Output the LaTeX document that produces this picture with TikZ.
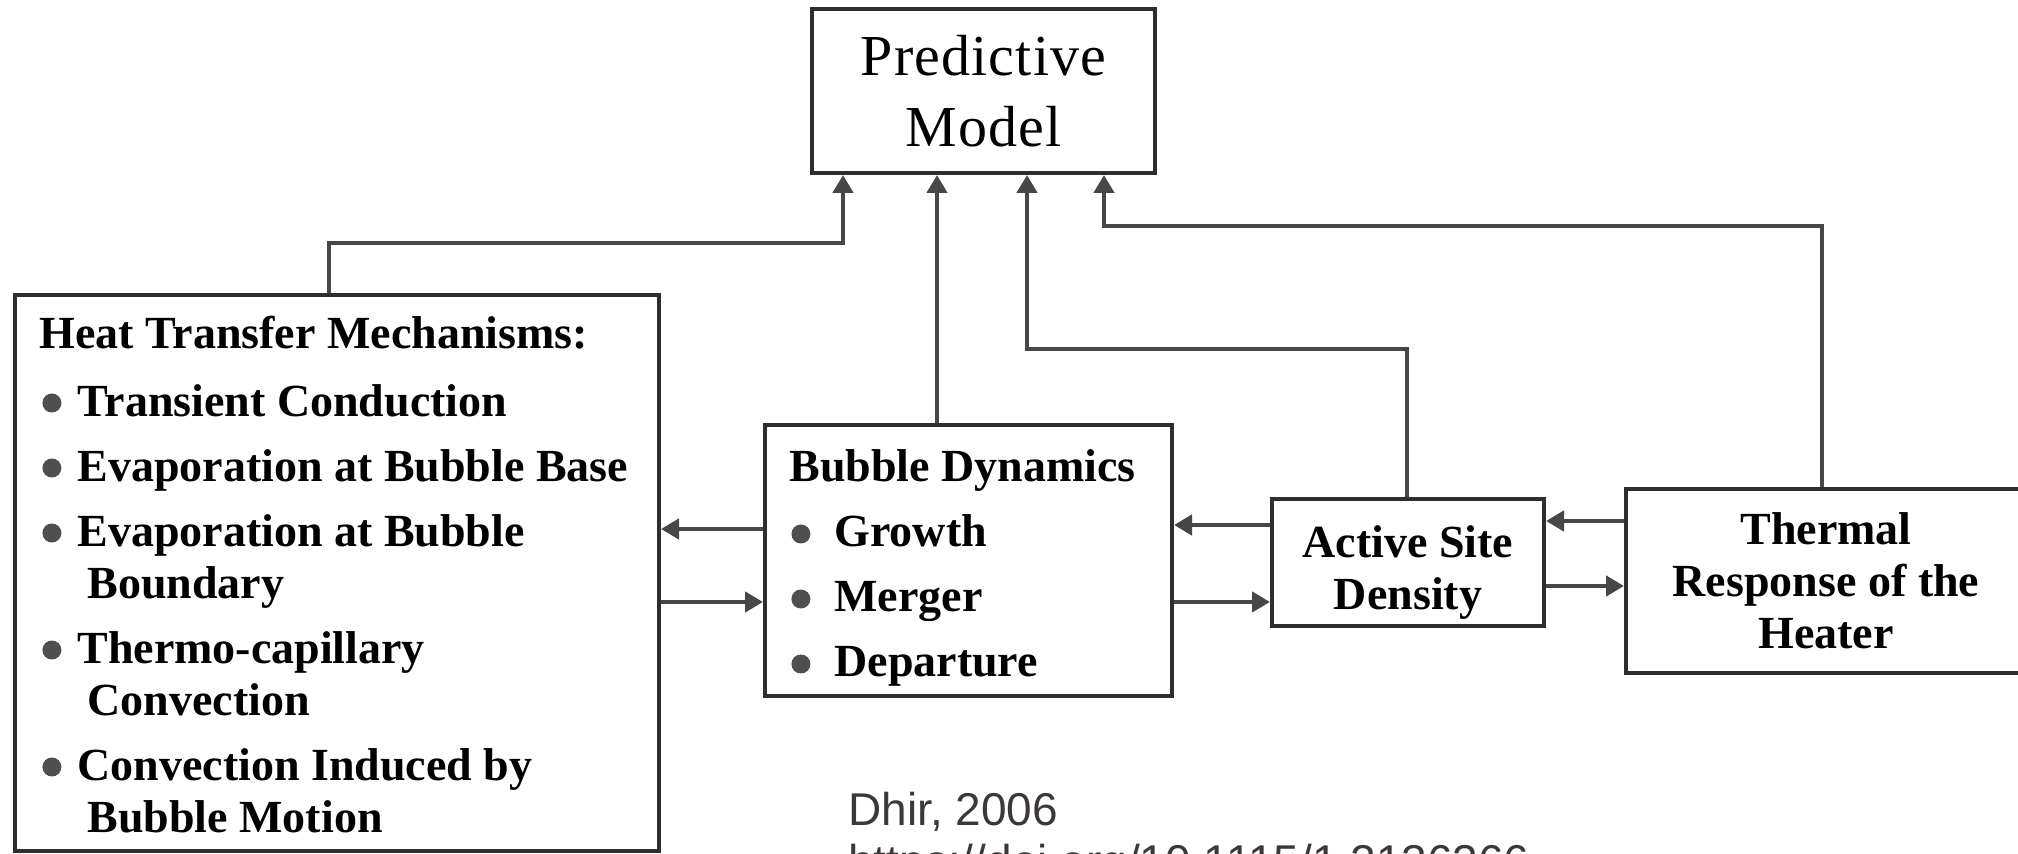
\documentclass[tikz,border=0pt]{standalone}
\usepackage{fontspec}
\setmainfont{Liberation Serif}
\newfontfamily\capfont{Liberation Sans}
\usepackage{xcolor}
\usetikzlibrary{arrows.meta}
\definecolor{boxgray}{HTML}{2E2E2E}
\definecolor{linegray}{HTML}{474747}
\definecolor{bulgray}{HTML}{4F4F4F}
\definecolor{capgray}{HTML}{3D3838}
\newcommand{\bul}{\tikz[baseline=0pt]\fill[bulgray] (0pt,6.5pt) circle[radius=4.75pt];}
\newcommand{\mechitem}[1]{\hspace*{1.5pt}\bul\hspace{8pt}#1}
\newcommand{\dynitem}[1]{\hspace*{1pt}\bul\hspace{12pt}#1}

\begin{document}
\begin{tikzpicture}[x=0.5pt,y=-0.5pt,
    box/.style={draw=boxgray, line width=2pt, rectangle, inner sep=0pt},
    lbl/.style={font=\fontsize{23}{26}\selectfont\bfseries},
    link/.style={draw=linegray, line width=2.4pt, -{Triangle[length=9pt,width=10pt]}}]
  \useasboundingbox (0,0) rectangle (2018,854);
  \clip (0,0) rectangle (2018,854);

  % top box
  \node[box, minimum width=171.5pt, minimum height=82pt, align=center,
        font=\fontsize{29}{35.5}\selectfont\addfontfeature{LetterSpace=2}] (model) at (983.5,91) {Predictive\\Model};

  % heat transfer mechanisms (text sits on the baseline of its last line)
  \node[box, minimum width=322pt, minimum height=278pt] (htm) at (337,573) {};
  \node[lbl, align=left, anchor=base west, inner sep=0pt] (htmtext) at (39,832)
    {Heat Transfer Mechanisms:\\[8pt]
     \mechitem{Transient Conduction}\\[6.5pt]
     \mechitem{Evaporation at Bubble Base}\\[6.5pt]
     \mechitem{Evaporation at Bubble}\\
     \hspace*{24pt}Boundary\\[6.5pt]
     \mechitem{Thermo-capillary}\\
     \hspace*{24pt}Convection\\[6.5pt]
     \mechitem{Convection Induced by}\\
     \hspace*{24pt}Bubble Motion};

  % bubble dynamics
  \node[box, minimum width=203.5pt, minimum height=135.5pt] (bd) at (968.5,560.5) {};
  \node[lbl, align=left, anchor=base west, inner sep=0pt] (bdtext) at (789,677)
    {Bubble Dynamics\\[6.5pt]
     \dynitem{Growth}\\[6.5pt]
     \dynitem{Merger}\\[6.5pt]
     \dynitem{Departure}};

  \node[box, minimum width=136pt, minimum height=63.5pt] (asd) at (1408,562.5) {};
  \node[lbl, align=center, anchor=base, inner sep=0pt] (asdtext) at (1408,610) {Active Site\\Density};
  \node[box, lbl, align=center, minimum width=200pt, minimum height=92pt] (thr) at (1826,581) {Thermal\\Response of the\\Heater};

  % links up to the model
  \draw[link] (htm.north -| 329,0) |- (843,243) -- (model.south -| 843,0);
  \draw[link] (bd.north -| 937,0) -- (model.south -| 937,0);
  \draw[link] (asd.north -| 1407,0) |- (1027,349) -- (model.south -| 1027,0);
  \draw[link] (thr.north -| 1822,0) |- (1104,226) -- (model.south -| 1104,0);

  % links between the boxes
  \draw[link] (bd.west |- 0,529) -- (htm.east |- 0,529);
  \draw[link] (htm.east |- 0,602) -- (bd.west |- 0,602);
  \draw[link] (asd.west |- 0,525) -- (bd.east |- 0,525);
  \draw[link] (bd.east |- 0,602) -- (asd.west |- 0,602);
  \draw[link] (thr.west |- 0,521) -- (asd.east |- 0,521);
  \draw[link] (asd.east |- 0,586) -- (thr.west |- 0,586);

  \node[font=\capfont\fontsize{23}{26}\selectfont, text=capgray, align=left, anchor=base west, inner sep=0pt] (cite) at (848,877)
    {Dhir, 2006\\https://doi.org/10.1115/1.2136366};
\end{tikzpicture}
\end{document}
